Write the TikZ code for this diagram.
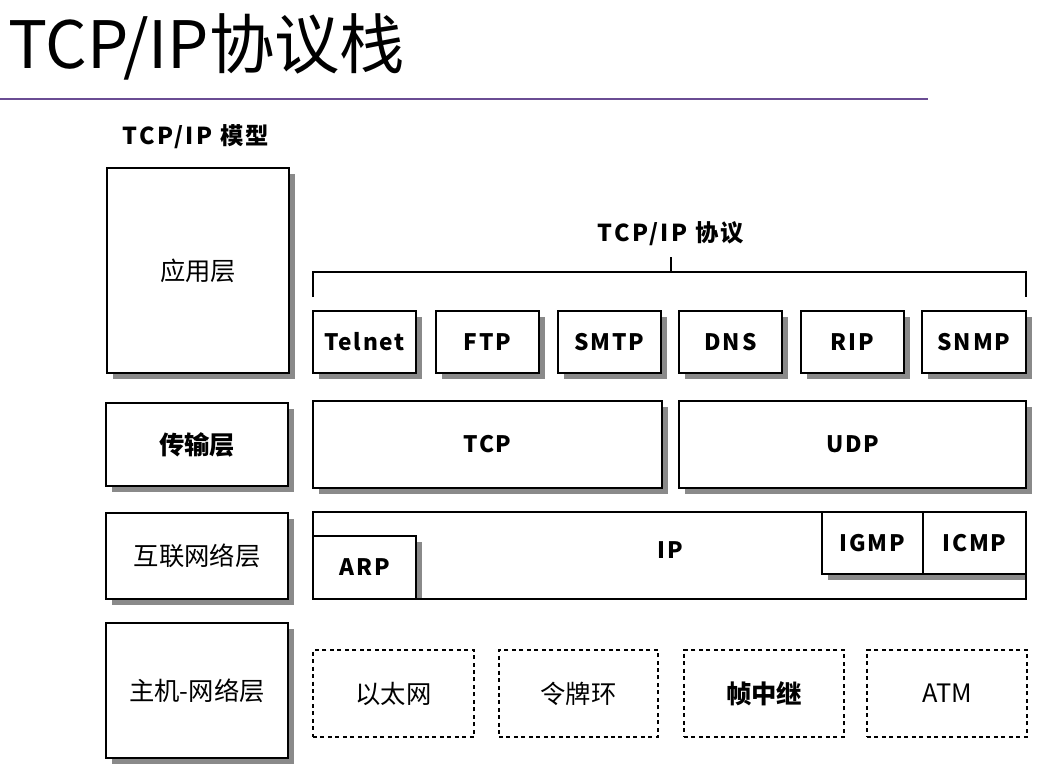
\documentclass[tikz,border=0pt]{standalone}
\usepackage{fontspec}
\setmainfont{Noto Sans CJK SC}
\usetikzlibrary{shadows}
\definecolor{rulecol}{HTML}{6A4C93}
\definecolor{shadowcol}{HTML}{8A8A8A}

% rectangle node given by its corners (x1,y1) (x2,y2) in pixel units
\newcommand\pxbox[7][]{%
  \pgfmathsetmacro\pxw{(#5-#3)*0.75}%
  \pgfmathsetmacro\pxh{(#6-#4)*0.75}%
  \node[#1, minimum width=\pxw pt, minimum height=\pxh pt, anchor=north west] (#2) at (#3,#4) {#7};}

\tikzset{
  box/.style={draw=black, line width=1.3pt, fill=white, inner sep=0pt, outer sep=0pt},
  shbox/.style={box, drop shadow={shadow xshift=4.2pt, shadow yshift=-4.2pt, fill=shadowcol, opacity=1}},
  dbox/.style={draw=black, line width=1.4pt, dash pattern=on 3pt off 2.6pt, inner sep=0pt, outer sep=0pt},
  layer/.style={font=\fontsize{19}{19}\selectfont},
  layerb/.style={font=\fontsize{19}{19}\selectfont\bfseries},
  proto/.style={font=\fontsize{17}{17}\selectfont\bfseries\addfontfeature{LetterSpace=8}},
  head/.style={font=\fontsize{17.5}{17.5}\selectfont\bfseries\addfontfeature{LetterSpace=10}},
  bracket/.style={draw=black, line width=1pt},
}

\begin{document}
\begin{tikzpicture}[x=0.75pt, y=-0.75pt]
\useasboundingbox[fill=white] (0,0) rectangle (1052,768);

% title and rule
\node[anchor=base west, inner sep=0pt, font=\fontsize{49}{49}\selectfont] (title) at (8,68) {TCP/IP协议栈};
\coordinate (ruleL) at (0,99);
\coordinate (ruleR) at (928,99);
\draw[rulecol, line width=2pt] (ruleL) -- (ruleR);

% model column
\node[head] (modelhead) at (196,137) {TCP/IP 模型};
\pxbox[shbox,layer]{app}{107}{168}{289}{373}{应用层}
\pxbox[shbox,layerb]{trans}{106}{403}{288}{486}{传输层}
\pxbox[shbox,layer]{inet}{106}{513}{288}{599}{互联网络层}
\pxbox[shbox,layer]{host}{106}{623}{288}{758}{主机-网络层}

% protocol group heading and bracket
\node[head] (protohead) at (671,234) {TCP/IP 协议};
\coordinate (brL) at (313,297);
\coordinate (brR) at (1026,297);
\coordinate (brTick) at (671,272);
\draw[bracket] (brL) |- (brTick) -| (brR);
\draw[bracket] (brTick) -- ++(0,-15);

% application protocols
\pxbox[shbox,proto]{telnet}{313}{311}{416}{373}{Telnet}
\pxbox[shbox,proto]{ftp}{436}{311}{539}{373}{FTP}
\pxbox[shbox,proto]{smtp}{558}{311}{661}{373}{SMTP}
\pxbox[shbox,proto]{dns}{679}{311}{782}{373}{DNS}
\pxbox[shbox,proto]{rip}{801}{311}{904}{373}{RIP}
\pxbox[shbox,proto]{snmp}{922}{311}{1026}{373}{SNMP}

% transport protocols
\pxbox[shbox,proto]{tcp}{313}{401}{662}{488}{TCP}
\pxbox[shbox,proto]{udp}{679}{401}{1026}{488}{UDP}

% internet layer
\pxbox[box]{ip}{313}{512}{1026}{599}{}
\begin{scope}
  \clip (ip.north west) rectangle (ip.south east);
  \pxbox[shbox,proto]{arp}{313}{536}{416}{599}{ARP}
  \pxbox[shbox,proto]{igmp}{822}{512}{923}{574}{IGMP}
  \pxbox[shbox,proto]{icmp}{923}{512}{1026}{574}{ICMP}
\end{scope}
\draw[line width=1.3pt] (ip.north west) rectangle (ip.south east);
\node[proto] (iplab) at (670,550) {IP};

% host-to-network technologies
\pxbox[dbox,layer]{eth}{313}{650}{474}{737}{以太网}
\pxbox[dbox,layer]{token}{499}{650}{658}{737}{令牌环}
\pxbox[dbox,layerb]{frame}{684}{650}{844}{737}{帧中继}
\pxbox[dbox,layer]{atm}{867}{650}{1027}{737}{ATM}
\end{tikzpicture}
\end{document}
